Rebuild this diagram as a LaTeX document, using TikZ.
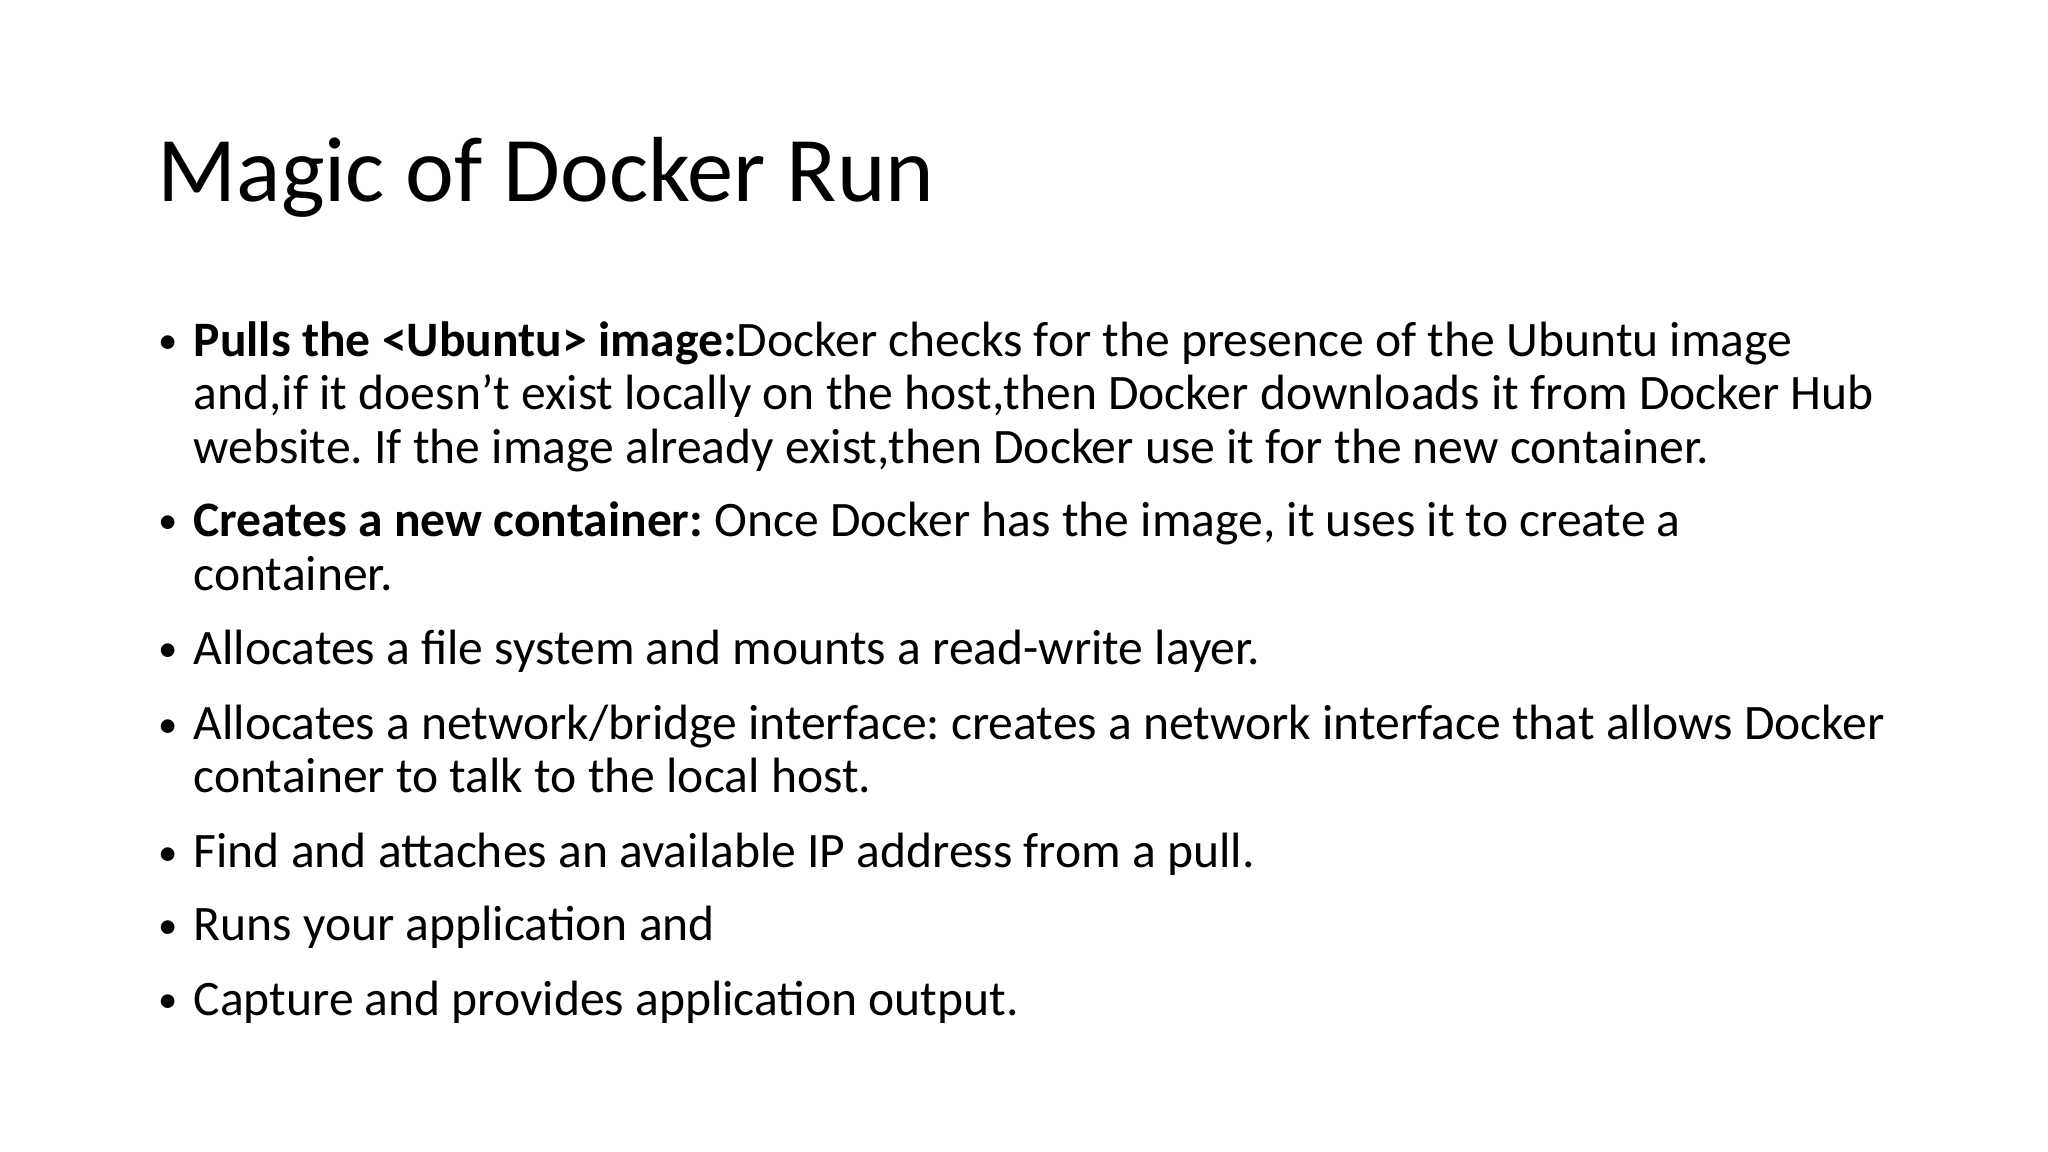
\documentclass[tikz,border=0pt]{standalone}
\usepackage{fontspec}
\setmainfont{Carlito}
\frenchspacing
\begin{document}
\begin{tikzpicture}[x=0.01cm,y=-0.01cm,
  ln/.style={anchor=base west,inner sep=0pt,font=\fontsize{14.1pt}{17pt}\selectfont},
  bl/.style={anchor=base west,inner sep=0pt,font=\fontsize{11pt}{13pt}\selectfont}]
\useasboundingbox[fill=white] (0,0) rectangle (2048,1152);
\node[anchor=base west,inner sep=0pt,font=\fontsize{26.3pt}{32pt}\selectfont] (title) at (157,202) {Magic of Docker Run};
\foreach \y/\n in {354/b1,534/b2,662/b3,737/b4,865/b5,938/b6,1012/b7}
  \node[bl] (\n) at (158,\y) {•};
\node[ln] (l1) at (193,356.6) {\textbf{Pulls the <Ubuntu> image:}Docker checks for the presence of the Ubuntu image};
\node[ln] (l2) at (193,410) {and,if it doesn’t exist locally on the host,then Docker downloads it from Docker Hub};
\node[ln] (l3) at (193,463.7) {website. If the image already exist,then Docker use it for the new container.};
\node[ln] (l4) at (193,536.9) {\textbf{Creates a new container:} Once Docker has the image, it uses it to create a};
\node[ln] (l5) at (193,590.4) {container.};
\node[ln] (l6) at (193,664.8) {Allocates a file system and mounts a read-write layer.};
\node[ln] (l7) at (193,739.3) {Allocates a network/bridge interface: creates a network interface that allows Docker};
\node[ln] (l8) at (193,792.8) {container to talk to the local host.};
\node[ln] (l9) at (193,867.3) {Find and attaches an available IP address from a pull.};
\node[ln] (l10) at (193,940.5) {Runs your application and};
\node[ln] (l11) at (193,1015) {Capture and provides application output.};
\end{tikzpicture}
\end{document}
